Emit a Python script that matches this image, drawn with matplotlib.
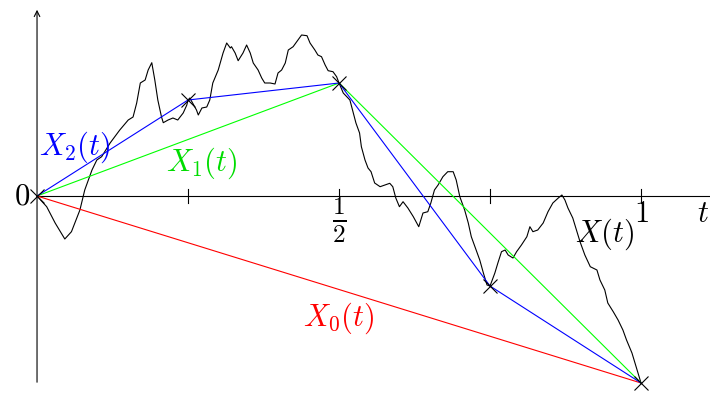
import numpy as np
import matplotlib.pyplot as plt

plt.rcParams['mathtext.fontset'] = 'cm'
plt.rcParams['font.family'] = 'DejaVu Serif'

# sample path X(t)
t_path = [0.0, 0.016, 0.030, 0.046, 0.057, 0.071, 0.079, 0.091, 0.099, 0.107,
          0.121, 0.137, 0.151, 0.159, 0.165, 0.171, 0.179, 0.184, 0.190, 0.195,
          0.200, 0.206, 0.209, 0.217, 0.225, 0.233, 0.242, 0.248, 0.25, 0.253,
          0.264, 0.267, 0.273, 0.281, 0.286, 0.291, 0.300, 0.308, 0.314, 0.320,
          0.322, 0.328, 0.333, 0.341, 0.347, 0.353, 0.358, 0.366, 0.372, 0.377,
          0.386, 0.394, 0.399, 0.405, 0.411, 0.416, 0.424, 0.430, 0.438, 0.447,
          0.452, 0.460, 0.465, 0.471, 0.477, 0.482, 0.490, 0.496, 0.5, 0.507,
          0.518, 0.523, 0.528, 0.534, 0.537, 0.543, 0.548, 0.553, 0.559, 0.568,
          0.576, 0.584, 0.589, 0.594, 0.600, 0.606, 0.614, 0.623, 0.632, 0.639,
          0.647, 0.652, 0.658, 0.664, 0.672, 0.680, 0.689, 0.694, 0.700, 0.708,
          0.714, 0.719, 0.725, 0.733, 0.739, 0.745, 0.75, 0.758, 0.763, 0.769,
          0.775, 0.780, 0.788, 0.794, 0.802, 0.811, 0.816, 0.821, 0.829, 0.838,
          0.846, 0.854, 0.863, 0.869, 0.874, 0.879, 0.887, 0.893, 0.899, 0.907,
          0.916, 0.927, 0.932, 0.940, 0.945, 0.954, 0.962, 0.970, 0.976, 0.985,
          0.990, 0.997, 1.0]
x_path = [0.0, -0.107, -0.27, -0.43, -0.357, -0.14, 0.06, 0.26, 0.36, 0.393,
          0.53, 0.66, 0.76, 0.79, 0.93, 1.13, 1.16, 1.26, 1.333, 1.16,
          0.96, 0.793, 0.733, 0.76, 0.78, 0.76, 0.83, 0.91, 0.96, 0.98,
          0.86, 0.81, 0.88, 0.89, 0.96, 1.13, 1.26, 1.43, 1.53, 1.48,
          1.493, 1.43, 1.353, 1.43, 1.51, 1.43, 1.33, 1.26, 1.18, 1.13,
          1.13, 1.12, 1.23, 1.26, 1.33, 1.46, 1.493, 1.543, 1.61, 1.603,
          1.53, 1.46, 1.41, 1.393, 1.31, 1.253, 1.243, 1.193, 1.13, 1.03,
          0.96, 0.843, 0.73, 0.63, 0.493, 0.36, 0.28, 0.243, 0.13, 0.093,
          0.11, 0.127, 0.093, -0.02, -0.107, -0.057, -0.12, -0.207, -0.307, -0.17,
          -0.157, -0.07, 0.06, 0.11, 0.193, 0.243, 0.243, 0.16, -0.007, -0.14,
          -0.27, -0.407, -0.507, -0.64, -0.77, -0.89, -0.90, -0.77, -0.67, -0.557,
          -0.54, -0.59, -0.62, -0.557, -0.49, -0.407, -0.307, -0.357, -0.34, -0.27,
          -0.157, -0.07, -0.02, 0.01, -0.04, -0.12, -0.22, -0.34, -0.457, -0.59,
          -0.707, -0.74, -0.84, -0.94, -1.07, -1.157, -1.24, -1.34, -1.44, -1.57,
          -1.67, -1.807, -1.87]

# dyadic nodes
node_t = [0.0, 0.25, 0.5, 0.75, 1.0]
node_x = [0.0, 0.96, 1.13, -0.90, -1.87]

fig = plt.figure(figsize=(7.10, 3.96), dpi=100)
ax = fig.add_axes([0, 0, 1, 1])
ax.set_xlim(-0.0613, 1.1142)
ax.set_ylim(-2.0, 1.96)
ax.set_axis_off()

# axes
ax.plot([0, 1.114], [0, 0], color='black', lw=0.8)
ax.annotate('', xy=(0, 1.89), xytext=(0, -1.89),
            arrowprops=dict(arrowstyle='->', color='black', lw=0.8))
for tk in [0.25, 0.5, 0.75, 1.0]:
    ax.plot([tk, tk], [-0.07, 0.07], color='black', lw=0.8)

ax.plot(t_path, x_path, color='black', lw=0.8)
ax.plot(node_t[::4], node_x[::4], color='red', lw=0.8)
ax.plot(node_t[::2], node_x[::2], color='#00ff00', lw=0.8)
ax.plot(node_t, node_x, color='blue', lw=0.8)
ax.plot(node_t, node_x, 'x', color='black', ms=10, mew=0.8)

fs = 22
ax.text(-0.012, 0.0, r'$0$', fontsize=fs, ha='right', va='center')
ax.text(0.5, -0.24, r'$\frac{1}{2}$', fontsize=26, ha='center', va='center')
ax.text(1.0, -0.18, r'$1$', fontsize=fs, ha='center', va='center')
ax.text(1.103, -0.18, r'$t$', fontsize=fs, ha='center', va='center')
ax.text(0.063, 0.49, r'$X_2(t)$', fontsize=fs, ha='center', va='center', color='blue')
ax.text(0.273, 0.33, r'$X_1(t)$', fontsize=fs, ha='center', va='center', color='#00dd00')
ax.text(0.5, -1.22, r'$X_0(t)$', fontsize=fs, ha='center', va='center', color='red')
ax.text(0.94, -0.38, r'$X(t)$', fontsize=fs, ha='center', va='center', color='black')

plt.savefig('out.png', dpi=100)
